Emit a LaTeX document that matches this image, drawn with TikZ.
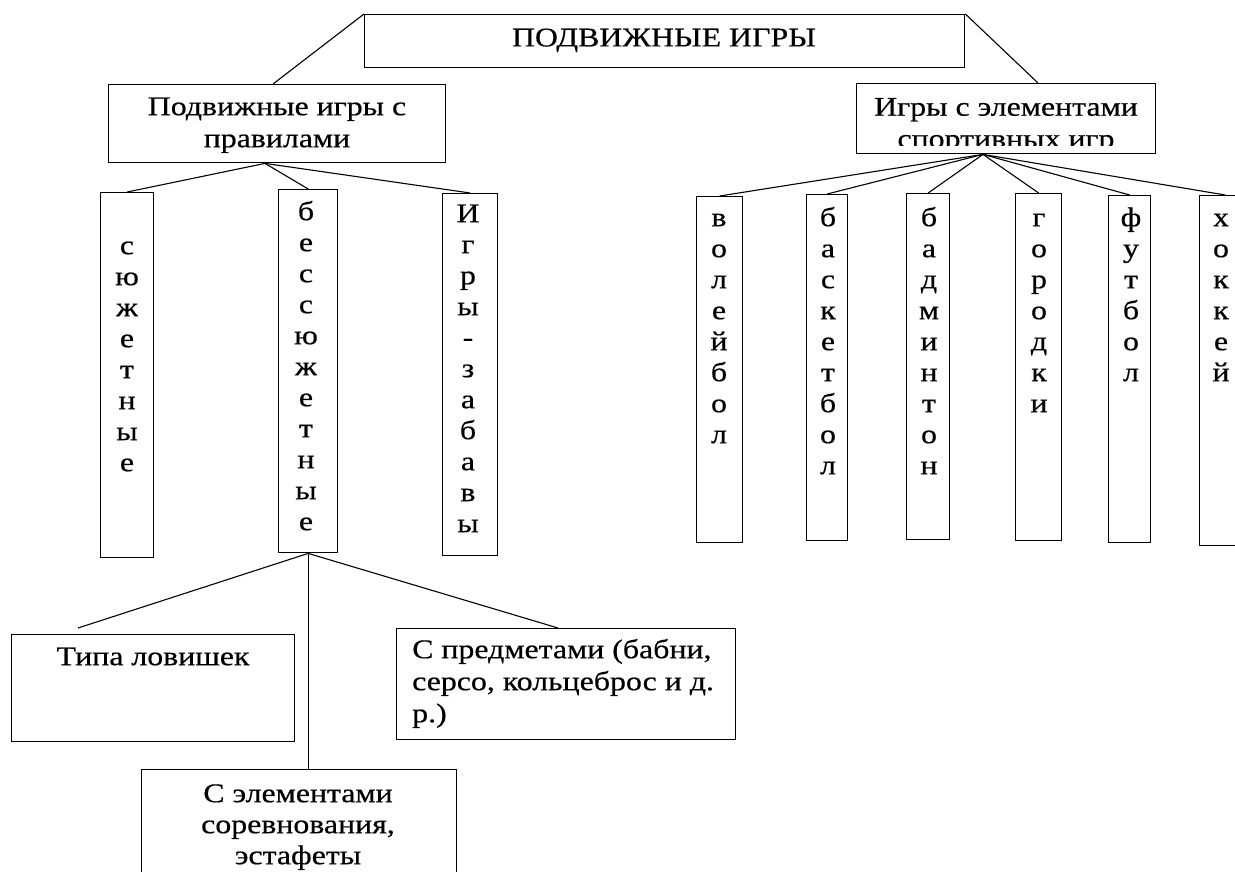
\documentclass[tikz,border=0pt]{standalone}
\usepackage{fontspec}
\setmainfont{Liberation Serif}[FakeStretch=1.18, FakeBold=0.5]
\usetikzlibrary{calc}
\newcommand\fsA{\fontsize{27}{31}\selectfont}
\newcommand\fsB{\fontsize{27}{32}\selectfont}
\newcommand\bx[6][]{\node[box, #1, minimum width={(#4-#2)*1pt}, minimum height={(#6-#3)*1pt}] (#5) at (#2,#3) {};}
\begin{document}
\begin{tikzpicture}[x=1pt,y=-1pt,
  box/.style={draw, line width=1.4pt, inner sep=0pt, anchor=north west},
  txt/.style={inner sep=0pt, font=\fsA, align=center, anchor=north},
  link/.style={line width=1.1pt}]
\clip (0,0) rectangle (1235,872);
\fill[white] (0,0) rectangle (1235,872);
% boxes: \bx[opts]{x1}{y1}{x2}{name}{y2}
\bx{364}{14}{964}{top}{67}
\bx{108}{84}{445}{L}{162}
\bx{856}{83}{1155}{R}{153}
\bx{100}{192}{153}{s1}{557}
\bx{278}{189}{337}{s2}{552}
\bx{442}{193}{497}{s3}{555}
\bx{696}{196}{742}{r1}{542}
\bx{806}{194}{847}{r2}{540}
\bx{906}{193}{949}{r3}{539}
\bx{1015}{193}{1061}{r4}{540}
\bx{1108}{195}{1150}{r5}{542}
\bx[overlay]{1199}{195}{1250}{r6}{545}
\bx{11}{634}{294}{tl}{741}
\bx{396}{628}{735}{tp}{739}
\bx[overlay]{141}{769}{456}{te}{900}
% texts
\node[txt] (topT) at (664,24.5) {\strut ПОДВИЖНЫЕ ИГРЫ};
\node[txt, font=\fsB] (LT) at (277,92.6) {\strut Подвижные игры с\\правилами};
\begin{scope}
\clip (857,84) rectangle (1154,145.5);
\node[txt, font=\fsB] (RT) at (1006,93.1) {\strut Игры с элементами\\спортивных игр};
\end{scope}
\node[txt] (s1T) at (127,232.3) {\strut с\\ю\\ж\\е\\т\\н\\ы\\е};
\node[txt] (s2T) at (306,198.3) {\strut б\\е\\с\\с\\ю\\ж\\е\\т\\н\\ы\\е};
\node[txt] (s3T) at (468,200.3) {\strut И\\г\\р\\ы\\-\\з\\а\\б\\а\\в\\ы};
\node[txt] (r1T) at (719,204.3) {\strut в\\о\\л\\е\\й\\б\\о\\л};
\node[txt] (r2T) at (828,204.3) {\strut б\\а\\с\\к\\е\\т\\б\\о\\л};
\node[txt] (r3T) at (929,204.3) {\strut б\\а\\д\\м\\и\\н\\т\\о\\н};
\node[txt] (r4T) at (1039,204.3) {\strut г\\о\\р\\о\\д\\к\\и};
\node[txt] (r5T) at (1131,204.3) {\strut ф\\у\\т\\б\\о\\л};
\node[txt] (r6T) at (1221,204.3) {\strut х\\о\\к\\к\\е\\й};
\node[txt] (tlT) at (153,643.3) {\strut Типа ловишек};
\node[txt, font=\fsB, align=left, anchor=north west] (tpT) at (412,635.6) {\strut С предметами (бабни,\\серсо, кольцеброс и д.\\р.)};
\node[txt] (teT) at (298,780.3) {\strut С элементами\\соревнования,\\эстафеты};
% connectors
\coordinate (jL) at ($(L.south west)+(157,0)$);
\coordinate (jR) at ($(R.south west)+(127,0)$);
\draw[link] (top.north west) -- ($(L.north west)+(165,0)$);
\draw[link] (top.north east) -- ($(R.north west)+(182,0)$);
\foreach \n in {s1,s2,s3} \draw[link] (jL) -- (\n.north);
\foreach \n in {r1,r2,r3,r4,r5,r6} \draw[link] (jR) -- (\n.north);
\draw[link] (s2.south) -- ($(tl.north west)+(67,-6)$);
\draw[link] (s2.south) -- (s2.south |- te.north);
\draw[link] (s2.south) -- ($(tp.north west)+(162,0)$);
\end{tikzpicture}
\end{document}
